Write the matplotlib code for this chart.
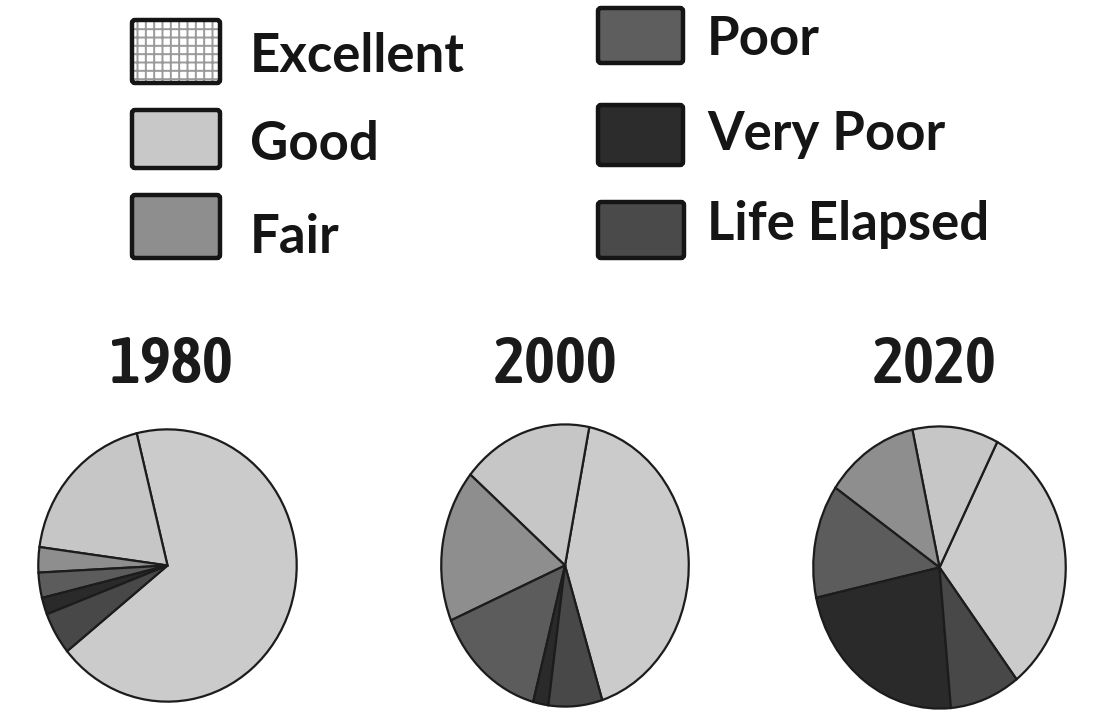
import matplotlib
matplotlib.use("Agg")
import matplotlib.pyplot as plt
from matplotlib.patches import FancyBboxPatch
from matplotlib import font_manager as fm

# ---- data ----
categories = ["Excellent", "Good", "Fair", "Poor", "Very Poor", "Life Elapsed"]
years = ["1980", "2000", "2020"]
values_1980 = [68, 19, 3, 3, 2, 5]
values_2000 = [42, 17, 17.5, 14.5, 2, 7]
values_2020 = [32, 11, 12, 13, 23, 9]
series = [values_1980, values_2000, values_2020]

# ---- style ----
pie_colors = ["#cbcbcb", "#c6c6c6", "#8e8e8e", "#5c5c5c", "#2a2a2a", "#484848"]
legend_colors = ["#ffffff", "#c8c8c8", "#8e8e8e", "#5e5e5e", "#2c2c2c", "#4a4a4a"]
start_angles = [219, 287.5, 307.6]

W, H = 1106, 712
fig = plt.figure(figsize=(W / 100, H / 100), dpi=100)
fig.patch.set_facecolor("white")

# pie axes boxes in pixels (left, top, right, bottom)
pie_boxes = [(37, 428, 298, 703), (440, 423, 690, 708), (812, 425, 1067, 710)]
title_x = [171, 556, 935]

for vals, box, sa in zip(series, pie_boxes, start_angles):
    l, t, r, b = box
    ax = fig.add_axes([l / W, (H - b) / H, (r - l) / W, (b - t) / H])
    ax.pie(vals, colors=pie_colors, startangle=sa, counterclock=True,
           wedgeprops=dict(edgecolor="#1c1c1c", linewidth=1.6))
    ax.set_aspect("auto")
    ax.set_xlim(-1.01, 1.01)
    ax.axis("off")
    ax.set_ylim(-1.01, 1.01)

# overlay axes in pixel coordinates for legend and titles
ov = fig.add_axes([0, 0, 1, 1], zorder=5)
ov.set_xlim(0, W)
ov.set_ylim(H, 0)
ov.axis("off")


def _wnum(w):
    if isinstance(w, (int, float)):
        return w
    return fm.weight_dict.get(str(w).lower(), 400)


# pick a condensed, semi-bold font for the year titles if one is installed
best, best_score = None, None
for f in fm.fontManager.ttflist:
    nm = (f.name + " " + str(f.stretch)).lower()
    if ("narrow" in nm or "condensed" in nm) and f.style == "normal" \
            and "mono" not in nm and "serif" not in f.name.lower():
        score = abs(_wnum(f.weight) - 600)
        if best_score is None or score < best_score:
            best, best_score = f.fname, score
if best:
    tprop = fm.FontProperties(fname=best)
else:
    tprop = fm.FontProperties(family="DejaVu Sans", weight="bold")

renderer = fig.canvas.get_renderer()
title_texts = []
for x, y in zip(title_x, years):
    t = ov.text(x, 383, y, fontproperties=tprop, color="#1a1a1a", ha="center", va="baseline")
    t.set_fontsize(40)
    title_texts.append(t)
# fit size: target width ~127 px and digit height ~48 px
bb = title_texts[0].get_window_extent(renderer)
fs_w = 40 * 130 / bb.width
fs_h = 48 / (0.73 * 100 / 72)
fs = min(fs_h, fs_w * 1.08)
for t in title_texts:
    t.set_fontsize(fs)

plt.rcParams["hatch.linewidth"] = 1.4
# legend boxes (left, top, right, bottom) and text baselines
leg_boxes = [(132, 20, 220, 83), (132, 110, 220, 168), (132, 195, 220, 258),
             (598, 8, 683, 63), (598, 105, 683, 165), (598, 202, 684, 258)]
leg_text_x = [250, 250, 250, 707, 707, 707]
leg_baseline = [72, 160, 253, 55, 150, 240]
for i, (cat, box) in enumerate(zip(categories, leg_boxes)):
    l, t, r, b = box
    if i == 0:
        hp = plt.Rectangle((l, t), r - l, b - t, facecolor="white", edgecolor="#9a9a9a",
                           hatch="++", linewidth=0)
        ov.add_patch(hp)
        ov.add_patch(FancyBboxPatch((l, t), r - l, b - t, boxstyle="round,pad=0,rounding_size=3",
                                    facecolor="none", edgecolor="#151515", linewidth=3.2))
    else:
        ov.add_patch(FancyBboxPatch((l, t), r - l, b - t, boxstyle="round,pad=0,rounding_size=3",
                                    facecolor=legend_colors[i], edgecolor="#151515", linewidth=3.2))
    ov.text(leg_text_x[i], leg_baseline[i], cat, family=["Lato", "DejaVu Sans"],
            fontweight="bold", fontsize=38, color="#151515", ha="left", va="baseline")

fig.savefig("out.png", dpi=100, facecolor="white")
